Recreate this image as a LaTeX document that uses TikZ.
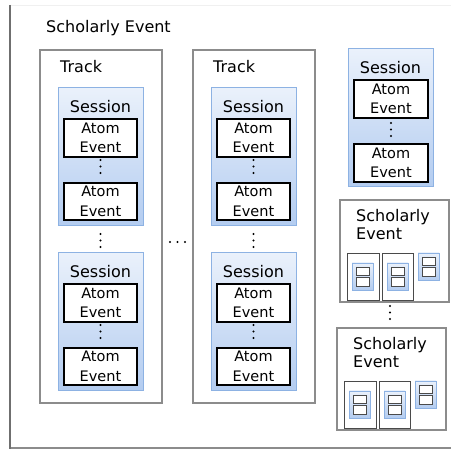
\documentclass[tikz,border=0pt]{standalone}
\usepackage{fontspec}
\setmainfont{DejaVu Sans}
\definecolor{blue1}{HTML}{8DB2E3}
\definecolor{blue2}{HTML}{EAF1FB}
\definecolor{blue3}{HTML}{B3CCF0}
\definecolor{gray1}{HTML}{8C8C8C}
\definecolor{gray2}{HTML}{6F6F6F}
\definecolor{gray3}{HTML}{4A4A4A}

\begin{document}
\begin{tikzpicture}[x=1pt,y=-1pt,
  track/.style={draw=gray1,line width=1.2pt,fill=white},
  session/.style={draw=blue1,line width=1pt,top color=blue2,bottom color=blue3},
  atom/.style={draw=black,line width=1.6pt,fill=white},
  minitrack/.style={draw=gray3,line width=0.8pt,fill=white},
  mini/.style={draw=blue1,line width=0.8pt,top color=blue2,bottom color=blue3},
  miniatom/.style={draw=gray3,line width=0.8pt,fill=white},
  lbl/.style={inner sep=0pt,font=\fontsize{16}{18}\selectfont},
  atomlbl/.style={inner sep=0pt,align=center,font=\fontsize{14.5}{19.5}\selectfont}]
\useasboundingbox (0,0) rectangle (451,449);
% outer frame
\draw[gray!12,line width=1pt] (10,6) -- (451,6);
\draw[gray1,line width=1.5pt] (10,448) -- (451,448);
\draw[gray2,line width=2.4pt] (10,5) -- (10,449);
\node[lbl,anchor=west] (title) at (46,28) {Scholarly Event};
% tracks
\foreach \dx/\tk in {0/trackA,153/trackB}{
  \draw[track] (40+\dx,50) rectangle (162+\dx,403);
  \node[lbl,anchor=west] (\tk) at (60+\dx,67) {Track};
  \foreach \t/\s in {88/1,253/2}{
    \draw[session] (58+\dx,\t) rectangle (143+\dx,\t+138);
    \node[lbl,anchor=base] (\tk-s\s) at (100.5+\dx,\t+25) {Session};
    \draw[atom] (64+\dx,\t+31) rectangle (137+\dx,\t+69);
    \node[atomlbl] (\tk-s\s-a1) at (100.5+\dx,\t+50) {Atom\\Event};
    \draw[atom] (64+\dx,\t+95) rectangle (137+\dx,\t+132);
    \node[atomlbl] (\tk-s\s-a2) at (100.5+\dx,\t+113.5) {Atom\\Event};
    \foreach \yy in {72,78.5,85} \fill (100.5+\dx,\t+\yy) circle (1.1pt);
  }
  \foreach \yy in {234,240.5,247} \fill (100.5+\dx,\yy) circle (1.1pt);
}
\foreach \xx in {170,177.5,185} \fill (\xx,242) circle (1.1pt);
% single session
\draw[session] (348,49) rectangle (433,187);
\node[lbl,anchor=base] (session) at (390.5,74) {Session};
\draw[atom] (354,80) rectangle (428,118);
\node[atomlbl] (atom1) at (391,99) {Atom\\Event};
\draw[atom] (354,144) rectangle (428,182);
\node[atomlbl] (atom2) at (391,163) {Atom\\Event};
\foreach \yy in {123,129.5,136} \fill (391,\yy) circle (1.1pt);
% small scholarly events
\foreach \x/\y/\ev in {340/200/eventA,337/328/eventB}{
  \draw[track] (\x,\y) rectangle ++(109,102);
  \node[lbl,anchor=north west,align=left] (\ev) at (\x+16,\y+9) {Scholarly\\Event};
  \draw[minitrack] (\x+7,\y+53) rectangle ++(32,47);
  \draw[minitrack] (\x+42,\y+53) rectangle ++(31,47);
  \foreach \sx/\sy in {12/63,47/63,78/53}{
    \draw[mini] (\x+\sx,\y+\sy) rectangle ++(21,27);
    \draw[miniatom] (\x+\sx+4,\y+\sy+4) rectangle ++(13,8.5);
    \draw[miniatom] (\x+\sx+4,\y+\sy+14.5) rectangle ++(13,8.5);
  }
}
\foreach \yy in {306,312.5,319} \fill (390,\yy) circle (1.1pt);
\end{tikzpicture}
\end{document}
